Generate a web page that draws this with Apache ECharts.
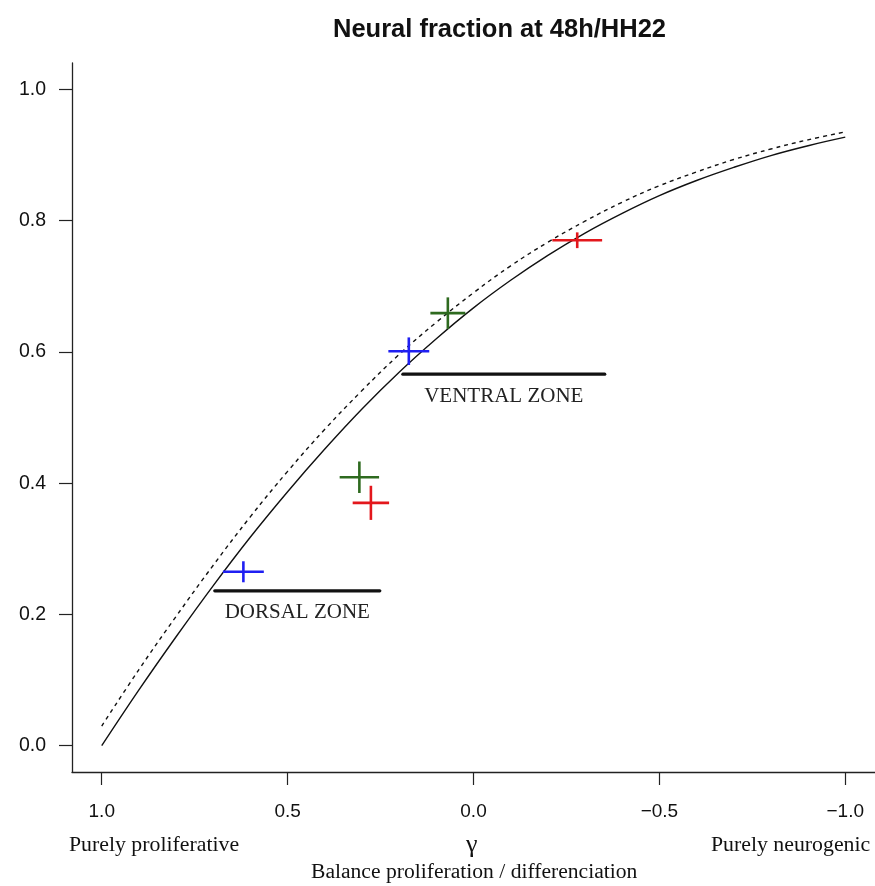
<!DOCTYPE html>
<html>
<head>
<meta charset="utf-8">
<script src="https://cdn.jsdelivr.net/npm/echarts@6/dist/echarts.min.js"></script>
<style>
  html, body { margin: 0; padding: 0; background: #fff; }
  #chart { width: 875px; height: 886px; }
</style>
</head>
<body>
<div id="chart"></div>
<script>
// gamma grid shared by both model curves
const gammaValues = [1.0, 0.9, 0.8, 0.7, 0.6, 0.5, 0.4, 0.3, 0.2, 0.1, 0.0,
  -0.1, -0.2, -0.3, -0.4, -0.5, -0.6, -0.7, -0.8, -0.9, -1.0];
// model neural fraction (solid) and with initial neurons (dashed)
const fractionSolid = [0.000, 0.085, 0.166, 0.244, 0.318, 0.387, 0.452, 0.513, 0.569, 0.620, 0.667,
  0.709, 0.747, 0.781, 0.811, 0.838, 0.861, 0.881, 0.899, 0.914, 0.927];
const fractionDashed = [0.030, 0.116, 0.197, 0.275, 0.349, 0.418, 0.482, 0.541, 0.596, 0.645, 0.690,
  0.731, 0.767, 0.799, 0.828, 0.853, 0.874, 0.893, 0.909, 0.923, 0.935];

// measurements: [gamma, fraction, gamma error, fraction error]
const bluePoints = [[0.619, 0.265, 0.055, 0.016], [0.174, 0.601, 0.055, 0.021]];
const greenPoints = [[0.307, 0.409, 0.053, 0.024], [0.069, 0.659, 0.047, 0.024]];
const redPoints = [[0.276, 0.370, 0.049, 0.026], [-0.279, 0.770, 0.067, 0.012]];

// zone bars: name, gamma start, gamma end, fraction
const zoneNames = ['DORSAL ZONE', 'VENTRAL ZONE'];
const zoneStart = [0.696, 0.190];
const zoneEnd = [0.252, -0.353];
const zoneLevel = [0.236, 0.566];

const xTicks = [1.0, 0.5, 0.0, -0.5, -1.0];
const yTicks = [0.0, 0.2, 0.4, 0.6, 0.8, 1.0];

const sansFont = '"Liberation Sans", Arial, Helvetica, sans-serif';
const serifFont = '"Liberation Serif", "Times New Roman", serif';
const axisColor = '#222';

function pairs(xs, ys) { return xs.map((x, i) => [x, ys[i]]); }

function crossSeries(name, points, color) {
  return {
    name: name,
    type: 'custom',
    data: points,
    renderItem: function (params, api) {
      const gx = api.value(0), fy = api.value(1), ex = api.value(2), ey = api.value(3);
      const l = api.coord([gx + ex, fy]);
      const r = api.coord([gx - ex, fy]);
      const t = api.coord([gx, fy + ey]);
      const b = api.coord([gx, fy - ey]);
      const style = { stroke: color, lineWidth: 2.6 };
      return {
        type: 'group',
        children: [
          { type: 'line', shape: { x1: l[0], y1: l[1], x2: r[0], y2: r[1] }, style: style },
          { type: 'line', shape: { x1: t[0], y1: t[1], x2: b[0], y2: b[1] }, style: style }
        ]
      };
    },
    z: 5
  };
}

const zoneData = zoneNames.map((n, i) => [zoneStart[i], zoneEnd[i], zoneLevel[i]]);

const chart = echarts.init(document.getElementById('chart'), null, { renderer: 'canvas' });
chart.setOption({
  animation: false,
  backgroundColor: '#fff',
  title: {
    text: 'Neural fraction at 48h/HH22',
    left: 333,
    top: 17,
    padding: 0,
    textStyle: { fontFamily: sansFont, fontWeight: 'bold', fontSize: 25.5, color: '#111' }
  },
  grid: { left: 72, right: 0, top: 63, bottom: 114, containLabel: false, outerBoundsMode: 'none' },
  xAxis: {
    type: 'value',
    position: 'bottom',
    inverse: true,
    min: -1.08,
    max: 1.08,
    splitLine: { show: false },
    axisLine: { onZero: false, lineStyle: { color: axisColor, width: 1.3 } },
    axisTick: { show: true, length: 13, customValues: xTicks, lineStyle: { color: axisColor, width: 1.2 } },
    axisLabel: {
      customValues: xTicks,
      margin: 30,
      fontFamily: sansFont,
      fontSize: 19,
      color: '#111',
      formatter: v => v.toFixed(1).replace('-', '\u2212')
    }
  },
  yAxis: {
    type: 'value',
    position: 'left',
    min: -0.04,
    max: 1.04,
    splitLine: { show: false },
    axisLine: { show: true, onZero: false, lineStyle: { color: axisColor, width: 1.3 } },
    axisTick: { show: true, length: 13, customValues: yTicks, lineStyle: { color: axisColor, width: 1.2 } },
    axisLabel: {
      customValues: yTicks,
      margin: 26,
      fontFamily: sansFont,
      fontSize: 19.5,
      color: '#111',
      formatter: v => v.toFixed(1)
    }
  },
  graphic: [
    { type: 'text', left: 69, top: 834, style: { text: 'Purely proliferative', font: '21.8px ' + serifFont, fill: '#111' } },
    { type: 'text', left: 466, top: 832, style: { text: 'γ', font: '26px ' + serifFont, fill: '#111' } },
    { type: 'text', left: 711, top: 834, style: { text: 'Purely neurogenic', font: '21.8px ' + serifFont, fill: '#111' } },
    { type: 'text', left: 311, top: 861, style: { text: 'Balance proliferation / differenciation', font: '21.6px ' + serifFont, fill: '#111' } }
  ],
  series: [
    {
      name: 'model',
      type: 'line',
      data: pairs(gammaValues, fractionSolid),
      showSymbol: false,
      smooth: 0.4,
      lineStyle: { color: '#111', width: 1.4 },
      z: 3
    },
    {
      name: 'model with initial neurons',
      type: 'line',
      data: pairs(gammaValues, fractionDashed),
      showSymbol: false,
      smooth: 0.4,
      lineStyle: { color: '#111', width: 1.4, type: [4, 4] },
      z: 3
    },
    {
      name: 'zones',
      type: 'custom',
      data: zoneData,
      renderItem: function (params, api) {
        const a = api.coord([api.value(0), api.value(2)]);
        const b = api.coord([api.value(1), api.value(2)]);
        const name = zoneNames[params.dataIndex];
        return {
          type: 'group',
          children: [
            { type: 'line', shape: { x1: a[0], y1: a[1], x2: b[0], y2: b[1] },
              style: { stroke: '#111', lineWidth: 3.2, lineCap: 'round' } },
            { type: 'text', x: (a[0] + b[0]) / 2, y: a[1] + 22,
              style: { text: name, font: '21px ' + serifFont, fill: '#222', align: 'center', verticalAlign: 'middle' } }
          ]
        };
      },
      z: 4
    },
    crossSeries('blue', bluePoints, '#1f1ff2'),
    crossSeries('green', greenPoints, '#2e6a1f'),
    crossSeries('red', redPoints, '#e3171c')
  ]
});
</script>
</body>
</html>
